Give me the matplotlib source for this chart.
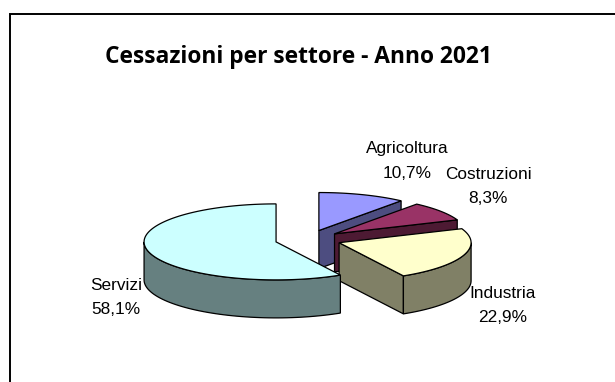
import numpy as np
import matplotlib
matplotlib.use("Agg")
import matplotlib.pyplot as plt
from matplotlib.patches import Polygon

settori = ["Agricoltura", "Costruzioni", "Industria", "Servizi"]
quote = [10.7, 8.3, 22.9, 58.1]
quote_testo = ["10,7%", "8,3%", "22,9%", "58,1%"]
colori_sopra = ["#9999FF", "#993366", "#FFFFCC", "#CCFFFF"]
colori_lato = ["#4D4D80", "#4D1A33", "#808066", "#668080"]
# label centres, in figure pixels
pos_etichette = [(407, 161), (488, 186.5), (503, 305), (116, 297.5)]

W, H = 615, 382
CX, CY = 308, 239.5     # pie centre
RX, RY = 132, 38        # ellipse radii of the tilted disc
DEPTH = 38              # height of the disc
EXPLODE = 0.25          # slice offset as a fraction of the radius

fig = plt.figure(figsize=(W / 100, H / 100), dpi=100, facecolor="white")
ax = fig.add_axes([0, 0, 1, 1])
ax.set_xlim(0, W)
ax.set_ylim(H, 0)
ax.axis("off")

# only the top and left sides of the chart frame fall inside the image
ax.plot([10, 10, W], [H, 13.5, 13.5], color="black", lw=1.4, solid_joinstyle="miter", zorder=1)


def rim(c, t):
    """Point on the ellipse around c at clockwise angle t from the top."""
    return np.column_stack((c[0] + RX * np.sin(t), c[1] - RY * np.cos(t)))


bordi = np.radians(np.cumsum([0] + quote) * 3.6)
for i in range(len(quote)):
    a, b = bordi[i], bordi[i + 1]
    m = (a + b) / 2
    c = (CX + EXPLODE * RX * np.sin(m), CY - EXPLODE * RY * np.cos(m))
    giu = np.array([0, DEPTH])
    apice = np.array(c)

    # radial wall along the clockwise edge, visible on the right-hand half
    if np.sin(b) > 0:
        fine = rim(c, np.array([b]))[0]
        ax.add_patch(Polygon([apice, fine, fine + giu, apice + giu], fc=colori_lato[i],
                             ec="black", lw=0.9, zorder=2 + i))

    # outer wall, only on the front half of the ellipse
    t0, t1 = max(a, np.pi / 2), min(b, 3 * np.pi / 2)
    if t1 > t0:
        arco = rim(c, np.linspace(t0, t1, 60))
        ax.add_patch(Polygon(np.vstack((arco, (arco + giu)[::-1])), fc=colori_lato[i],
                             ec="black", lw=0.9, zorder=2 + i))

    # top face
    arco = rim(c, np.linspace(a, b, 120))
    ax.add_patch(Polygon(np.vstack(([apice], arco)), fc=colori_sopra[i],
                         ec="black", lw=0.9, zorder=2 + i))

for nome, testo, (x, y) in zip(settori, quote_testo, pos_etichette):
    ax.text(x, y, f"{nome}\n{testo}", ha="center", va="center", fontsize=12.4,
            family="Liberation Sans", color="black", linespacing=1.75, zorder=10)

ax.text(298, 57, "Cessazioni per settore - Anno 2021", ha="center", va="center",
        fontsize=16.4, fontweight="bold", family="Open Sans", color="black", zorder=10)

fig.savefig("out.png", dpi=100, facecolor="white")
